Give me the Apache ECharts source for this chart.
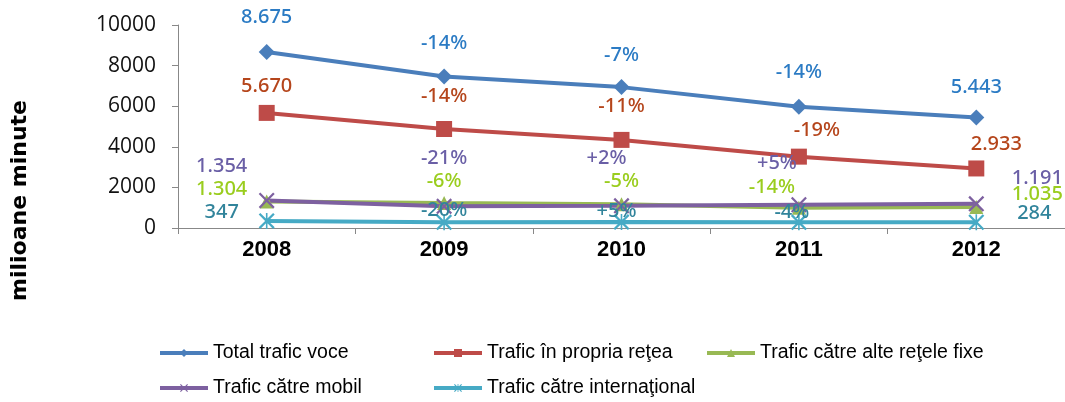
<!DOCTYPE html>
<html>
<head>
<meta charset="utf-8">
<script src="https://cdn.jsdelivr.net/npm/echarts@6/dist/echarts.min.js"></script>
<style>
  html, body { margin: 0; padding: 0; background: #fff; }
  #chart { width: 1065px; height: 402px; }
</style>
</head>
<body>
<div id="chart"></div>
<script>
// years and values (milioane minute)
const years = ["2008", "2009", "2010", "2011", "2012"];
const seriesNames = [
  "Total trafic voce",
  "Trafic în propria reţea",
  "Trafic către alte reţele fixe",
  "Trafic către mobil",
  "Trafic către internaţional"
];
const totalVoce = [8675, 7460, 6940, 5970, 5443];
const propriaRetea = [5670, 4876, 4340, 3515, 2933];
const alteFixe = [1304, 1226, 1164, 1001, 1035];
const catreMobil = [1354, 1070, 1091, 1146, 1191];
const international = [347, 278, 292, 280, 284];

// label texts shown next to points
const totalLabels = ["8.675", "-14%", "-7%", "-14%", "5.443"];
const proprieLabels = ["5.670", "-14%", "-11%", "-19%", "2.933"];
const fixeLabels = ["1.304", "-6%", "-5%", "-14%", "1.035"];
const mobilLabels = ["1.354", "-21%", "+2%", "+5%", "1.191"];
const intlLabels = ["347", "-20%", "+5%", "-4%", "284"];

// label offsets from the point, in px
const totalOff = [[0, -35], [0, -33], [0, -32], [0, -35], [0, -30]];
const proprieOff = [[0, -27], [0, -33], [0, -34], [18, -26], [20, -24]];
const fixeOff = [[-45, -12], [0, -22], [0, -23], [-27, -20], [61, -13]];
const mobilOff = [[-45, -34], [0, -48], [-15, -48], [-22, -41], [61, -26]];
const intlOff = [[-45, -9], [0, -12], [-5, -11], [-7, -10], [58, -9]];

const xMark = "path://M2,0L10,8L18,0L20,2L12,10L20,18L18,20L10,12L2,20L0,18L8,10L0,2Z";
const starMark = "path://M2,0L10,8L18,0L20,2L12,10L20,18L18,20L10,12L2,20L0,18L8,10L0,2Z M9,0H11V20H9Z";

function buildData(values, labels, offs) {
  return values.map(function (v, i) {
    return { value: v, label: { formatter: labels[i], offset: offs[i] } };
  });
}

function makeSeries(name, values, labels, offs, color, labelColor, symbol, size) {
  return {
    name: name,
    type: "line",
    data: buildData(values, labels, offs),
    symbol: symbol,
    symbolSize: size,
    lineStyle: { width: 4, color: color },
    itemStyle: { color: color },
    label: {
      show: true,
      position: "inside",
      color: labelColor,
      fontSize: 20,
      fontWeight: 500,
      fontFamily: "Noto Sans"
    },
    emphasis: { disabled: true },
    animation: false
  };
}

const legendPos = [
  { left: 158, top: 343 },
  { left: 432, top: 343 },
  { left: 705, top: 343 },
  { left: 158, top: 378 },
  { left: 432, top: 378 }
];

let myChart = echarts.init(document.getElementById("chart"));
let option = {
  backgroundColor: "#fff",
  textStyle: { fontFamily: "Noto Sans" },
  graphic: [
    {
      type: "text",
      left: 9,
      top: 100,
      rotation: Math.PI / 2,
      style: {
        text: "milioane minute",
        fontSize: 22,
        fontWeight: "bold",
        fontFamily: "DejaVu Sans",
        fill: "#000"
      }
    }
  ],
  legend: legendPos.map(function (p, i) {
    return {
      data: [seriesNames[i]],
      left: p.left,
      top: p.top,
      padding: 0,
      itemWidth: 48,
      itemHeight: 10,
      itemGap: 4,
      lineStyle: { width: 4 },
      textStyle: { fontSize: 19.5, color: "#000", fontFamily: "Liberation Sans" },
      selectedMode: false
    };
  }),
  grid: {
    left: 178,
    right: 0,
    top: 25,
    height: 203
  },
  xAxis: {
    type: "category",
    data: years,
    boundaryGap: true,
    axisLine: { lineStyle: { color: "#888", width: 1 } },
    axisTick: { show: true, length: 6, lineStyle: { color: "#888" } },
    axisLabel: {
      color: "#000",
      fontSize: 22,
      fontWeight: "bold",
      fontFamily: "Liberation Sans",
      margin: 11
    }
  },
  yAxis: {
    type: "value",
    min: 0,
    max: 10000,
    interval: 2000,
    axisLine: { show: true, lineStyle: { color: "#888", width: 1 } },
    axisTick: { show: true, length: 6, lineStyle: { color: "#888" } },
    splitLine: { show: false },
    axisLabel: {
      color: "#111",
      fontSize: 21,
      fontFamily: "Open Sans",
      margin: 22,
      formatter: function (v) { return String(v); }
    }
  },
  series: [
    makeSeries(seriesNames[0], totalVoce, totalLabels, totalOff, "#4a7ebb", "#2b7bc4", "diamond", 16),
    makeSeries(seriesNames[1], propriaRetea, proprieLabels, proprieOff, "#be4b48", "#b5451b", "rect", 16),
    makeSeries(seriesNames[2], alteFixe, fixeLabels, fixeOff, "#98b954", "#9acd1e", "triangle", 14),
    makeSeries(seriesNames[3], catreMobil, mobilLabels, mobilOff, "#7d60a0", "#6a5fa6", xMark, 16),
    makeSeries(seriesNames[4], international, intlLabels, intlOff, "#46aac5", "#31849b", starMark, 16)
  ]
};
option && myChart.setOption(option);
</script>
</body>
</html>
